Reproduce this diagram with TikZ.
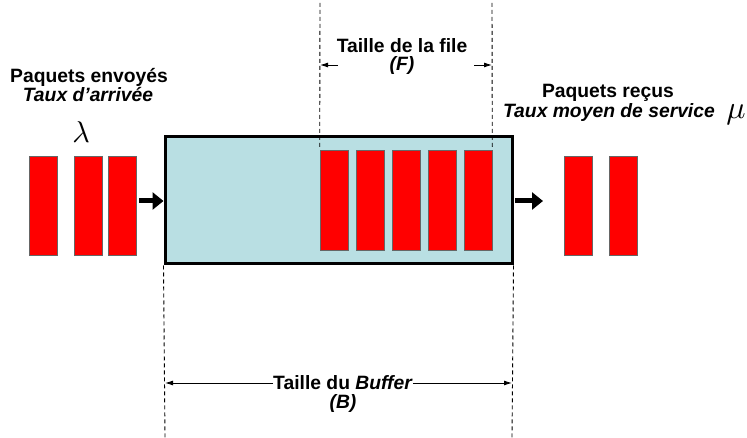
\documentclass[tikz,border=0pt]{standalone}
\usepackage{fontspec}
\setmainfont{Liberation Sans}
\usetikzlibrary{arrows.meta}
\definecolor{bufcol}{RGB}{185,223,227}
\tikzset{
	paquet/.style={draw=black!60,line width=0.6pt,fill=red,minimum width=28pt,minimum height=99pt,inner sep=0pt},
	lbl/.style={font=\fontsize{19.3}{20}\selectfont\bfseries,anchor=base,inner sep=0pt},
	flux/.style={line width=5pt,-{Triangle[length=11pt,width=17pt]}},
	repere/.style={line width=0.9pt,dash pattern=on 4pt off 3pt},
	cote/.style={line width=0.9pt,-{Latex[length=8pt,width=5pt]}}
}
\begin{document}
\begin{tikzpicture}[x=1pt,y=-1pt]
	\useasboundingbox (0,0) rectangle (747,438);
	% buffer
	\node[draw,line width=3pt,fill=bufcol,minimum width=347pt,minimum height=127pt,inner sep=0pt](buf) at (338.5,200.5){};
	% paquets
	\node[paquet](e1) at (43,205.5){};
	\node[paquet](e2) at (88,205.5){};
	\node[paquet](e3) at (122.5,205.5){};
	\foreach \i in {1,...,5}
		\node[paquet,minimum height=100pt](q\i) at (334+36*\i-36,200){};
	\node[paquet](r1) at (578.5,205.5){};
	\node[paquet](r2) at (623.5,205.5){};
	% fleches
	\coordinate (fe) at (139,201);
	\coordinate (fs0) at (515,201);
	\coordinate (fs) at (543,201);
	\draw[flux](fe)--(fe-|buf.west);
	\draw[flux](fs0)--(fs);
	% textes
	\node[lbl](env) at (89,83){Paquets envoyés};
	\node[lbl](arr) at (88,102){\textit{Taux d’arrivée}};
	\node[inner sep=0pt,scale=3](lambda) at (81,132){$\lambda$};
	\node[lbl](rec) at (608,98){Paquets reçus};
	\node[lbl](serv) at (609,118){\textit{Taux moyen de service}};
	\node[inner sep=0pt,scale=3.2](mu) at (736,115){$\mu$};
	% taille de la file
	\coordinate (h1) at (320,3);
	\coordinate (h2) at (492,3);
	\draw[repere](h1)--(q1.north west);
	\draw[repere](h2)--(q5.north east);
	\node[lbl](ftxt) at (402,53){Taille de la file};
	\node[lbl](fsym) at (402,71){\textit{(F)}};
	\coordinate (fg0) at (338,65);
	\coordinate (fd0) at (474,65);
	\draw[cote](fg0)--(fg0-|h1);
	\draw[cote](fd0)--(fd0-|h2);
	% taille du buffer
	\coordinate (b1) at (165,438);
	\coordinate (b2) at (512,438);
	\draw[repere](buf.south west)--(b1);
	\draw[repere](buf.south east)--(b2);
	\node[lbl](btxt) at (343,389){Taille du \textit{Buffer}};
	\node[lbl](bsym) at (343,408){\textit{(B)}};
	\coordinate (bc) at (343,383);
	\draw[cote](btxt.west|-bc)--(bc-|b1);
	\draw[cote](btxt.east|-bc)--(bc-|b2);
\end{tikzpicture}
\end{document}
